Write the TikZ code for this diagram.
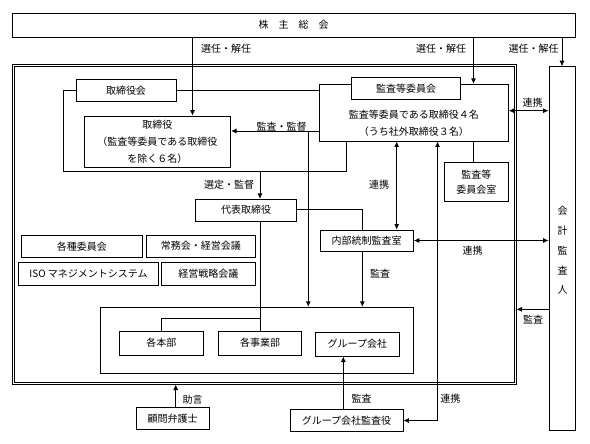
\documentclass[tikz,border=0pt]{standalone}
\usepackage{fontspec}
\setmainfont{Noto Sans CJK JP}
\usetikzlibrary{arrows.meta,calc}
\begin{document}
\begin{tikzpicture}[x=1pt,y=-1pt,
  every node/.style={font=\fontsize{10}{12}\selectfont},
  box/.style={draw, line width=0.9pt, inner sep=0pt, fill=white},
  ln/.style={line width=0.8pt},
  arr/.style={ln, -{Latex[length=5.5pt,width=5pt]}},
  darr/.style={ln, {Latex[length=5.5pt,width=5pt]}-{Latex[length=5.5pt,width=5pt]}},
  lbl/.style={inner sep=0pt}]
\useasboundingbox (0,0) rectangle (590,444);

% outer double frame
\node[draw, line width=1pt, minimum width=504pt, minimum height=319.5pt, inner sep=0pt] (frame) at (264,224.25) {};
\draw[line width=0.8pt] ($(frame.north west)+(2.6,2.6)$) rectangle ($(frame.south east)+(-2.6,-2.6)$);

% boxes
\node[box, minimum width=563pt, minimum height=24pt] (soukai) at (293.5,25) {株　主　総　会};
\node[box, minimum width=100pt, minimum height=22pt] (torikai) at (126,90.3) {取締役会};
\node[box, minimum width=146.7pt, minimum height=51.3pt, align=center, font=\fontsize{10}{16.7}\selectfont] (tori) at (157.3,141.7) {取締役\\（監査等委員である取締役\\を除く６名）};
\node[box, minimum width=189pt, minimum height=56.7pt] (big) at (413.8,112.7) {};
\node[lbl, align=center, font=\fontsize{10}{16.7}\selectfont] (bigtext) at (413.8,123.3) {監査等委員である取締役４名\\（うち社外取締役３名）};
\node[box, minimum width=109pt, minimum height=22pt] (iinkai) at (406.2,88.3) {監査等委員会};
\node[box, minimum width=64pt, minimum height=39pt, align=center, font=\fontsize{10}{15}\selectfont] (shitsu) at (476.3,182.2) {監査等\\委員会室};
\node[box, minimum width=100.6pt, minimum height=21.7pt] (daihyo) at (246,210.2) {代表取締役};
\node[box, minimum width=93.3pt, minimum height=21pt] (naibu) at (366.7,240.5) {内部統制監査室};
\node[box, minimum width=121.7pt, minimum height=22.3pt] (kakushu) at (81.8,246.2) {各種委員会};
\node[box, minimum width=108.3pt, minimum height=22.3pt] (joumu) at (200.8,246.2) {常務会・経営会議};
\node[box, minimum width=140.4pt, minimum height=22.3pt] (iso) at (88.5,273.8) {ISO マネジメントシステム};
\node[box, minimum width=93.3pt, minimum height=22.3pt] (senryaku) at (208.3,273.8) {経営戦略会議};
\node[box, minimum width=312.6pt, minimum height=66pt] (cont) at (257,340.3) {};
\node[box, minimum width=84pt, minimum height=24pt] (honbu) at (161.3,343) {各本部};
\node[box, minimum width=83.4pt, minimum height=24pt] (jigyo) at (260,343) {各事業部};
\node[box, minimum width=84pt, minimum height=23.7pt] (group) at (357.3,344.2) {グループ会社};
\node[box, minimum width=73.3pt, minimum height=22pt] (komon) at (172.7,418.3) {顧問弁護士};
\node[box, minimum width=113pt, minimum height=22.7pt] (gkansa) at (346.5,420.5) {グループ会社監査役};
\node[box, minimum width=26pt, minimum height=364pt] (kaikei) at (562,248.7) {};
\node[lbl, align=center, font=\fontsize{10}{19.7}\selectfont] (kaikeitext) at (562.5,250.5) {会\\計\\監\\査\\人};

% helper coordinates
\coordinate (cA) at (192.5,0);
\coordinate (cB) at (473.5,0);
\coordinate (brk) at (346.7,171);
\coordinate (yK) at (0,131);
\coordinate (xK) at (308.3,0);
\coordinate (xD) at (260,0);
\coordinate (xN) at (362.3,0);
\coordinate (yD) at (0,209);
\coordinate (xR) at (396.7,0);
\coordinate (yB) at (0,110.7);
\coordinate (yF) at (0,309.3);
\coordinate (xS) at (473.3,0);
\coordinate (yH) at (0,318.3);
\coordinate (xL) at (437.5,0);
\coordinate (xG) at (343.3,0);
\coordinate (xJ) at (175.7,0);

% connectors
\draw[arr] (soukai.south -| cA) -- (tori.north -| cA);
\draw[arr] (soukai.south -| cB) -- (big.north -| cB);
\draw[arr] (soukai.south -| kaikei.north) -- (kaikei.north);
\draw[ln] (torikai.east) -- (torikai.east -| big.west);
\draw[ln] (torikai.west) -- ++(-12,0) |- (brk) -- (brk |- big.south);
\draw[arr] (big.west |- yK) -- (tori.east |- yK);
\draw[arr] (xK |- yK) -- (xK |- cont.north);
\draw[arr] (xD |- brk) -- (xD |- daihyo.north);
\draw[ln] (daihyo.east |- yD) -| (xN |- naibu.north);
\draw[arr] (xN |- naibu.south) -- (xN |- cont.north);
\draw[darr] (xR |- big.south) -- (xR |- naibu.north);
\draw[darr] (naibu.east) -- (naibu.east -| kaikei.west);
\draw[darr] (big.east |- yB) -- (kaikei.west |- yB);
\draw[arr] (kaikei.west |- yF) -- (frame.east |- yF);
\draw[ln] (xS |- big.south) -- (xS |- shitsu.north);
\draw[ln] (daihyo.south -| jigyo.north) -- (jigyo.north);
\draw[ln] (jigyo.north |- yH) -| (honbu.north);
\draw[darr] (xL |- big.south) |- (gkansa.east);
\draw[arr] (xG |- gkansa.north) -- (xG |- group.south);
\draw[arr] (xJ |- komon.north) -- (xJ |- frame.south);

% labels
\node[lbl] (l1) at (226,49) {選任・解任};
\node[lbl] (l2) at (441,49) {選任・解任};
\node[lbl] (l3) at (533.5,49) {選任・解任};
\node[lbl] (l4) at (281.7,126.7) {監査・監督};
\node[lbl] (l5) at (229,185) {選定・監督};
\node[lbl] (l6) at (379,185) {連携};
\node[lbl] (l7) at (532.5,102.7) {連携};
\node[lbl] (l8) at (472.7,250.7) {連携};
\node[lbl] (l9) at (380,273.3) {監査};
\node[lbl] (l10) at (533,320) {監査};
\node[lbl] (l11) at (192.5,400) {助言};
\node[lbl] (l12) at (361.7,398.3) {監査};
\node[lbl] (l13) at (450.3,399) {連携};
\end{tikzpicture}
\end{document}
